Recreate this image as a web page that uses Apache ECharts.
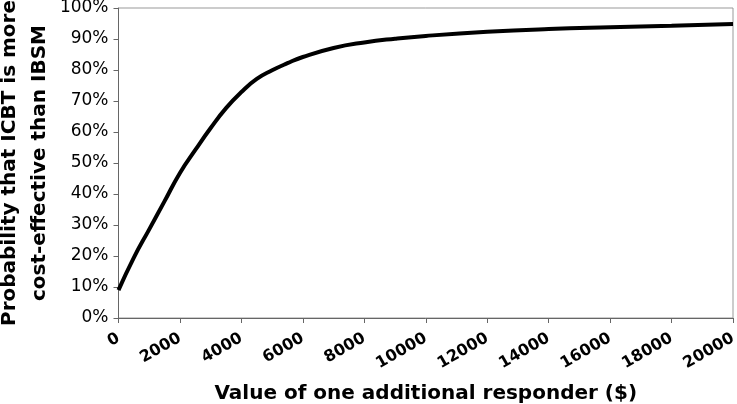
<!DOCTYPE html>
<html>
<head>
<meta charset="utf-8">
<script src="https://cdn.jsdelivr.net/npm/echarts@6/dist/echarts.min.js"></script>
<style>
html,body{margin:0;padding:0;background:#fff;}
#chart{width:737px;height:404px;}
</style>
</head>
<body>
<div id="chart"></div>
<script>
var xValues = [0, 500, 1000, 1500, 2000, 2500, 3000, 3500, 4000, 4500, 5000, 5500, 6000, 7000, 8000, 9000, 10000, 12000, 14000, 16000, 18000, 20000];
var probValues = [9, 19.5, 28.6, 37.7, 46.8, 54.2, 61.3, 67.7, 72.9, 77.1, 79.9, 82.2, 84.2, 87.1, 88.9, 90.1, 91.0, 92.3, 93.2, 93.8, 94.3, 94.8];
var xTitle = 'Value of one additional responder ($)';
var yTitle = 'Probability that ICBT is more\ncost-effective than IBSM';

var chart = echarts.init(document.getElementById('chart'));
var data = xValues.map(function (x, i) { return [x, probValues[i]]; });
var font = 'DejaVu Sans, Verdana, sans-serif';
chart.setOption({
  animation: false,
  backgroundColor: '#fff',
  grid: {left: 118.5, right: 4, top: 8, bottom: 86, containLabel: false, outerBoundsMode: 'none', show: true, borderColor: '#999', borderWidth: 1, backgroundColor: 'transparent'},
  xAxis: {
    type: 'value', min: 0, max: 20000, interval: 2000,
    name: xTitle, nameLocation: 'middle', nameGap: 66, nameMoveOverlap: false,
    nameTextStyle: {fontFamily: font, fontWeight: 'bold', fontSize: 20, color: '#000'},
    axisLine: {show: true, lineStyle: {color: '#666', width: 1}},
    axisTick: {show: true, length: 5, lineStyle: {color: '#666'}},
    splitLine: {show: false},
    axisLabel: {rotate: 30, margin: 19, fontFamily: font, fontWeight: 'bold', fontSize: 16, color: '#000', formatter: function (v) { return String(v); }}
  },
  yAxis: {
    type: 'value', min: 0, max: 100, interval: 10,
    name: yTitle, nameLocation: 'middle', nameGap: 64, nameRotate: 90, nameMoveOverlap: false,
    nameTextStyle: {fontFamily: font, fontWeight: 'bold', fontSize: 20, color: '#000', lineHeight: 30},
    axisLine: {show: true, lineStyle: {color: '#666', width: 1}},
    axisTick: {show: true, length: 5, lineStyle: {color: '#666'}},
    splitLine: {show: false},
    axisLabel: {margin: 10, fontFamily: font, fontSize: 17, color: '#000', formatter: '{value}%'}
  },
  series: [{
    type: 'line', data: data, smooth: 0.5, showSymbol: false,
    lineStyle: {color: '#000', width: 4}
  }]
});
</script>
</body>
</html>
